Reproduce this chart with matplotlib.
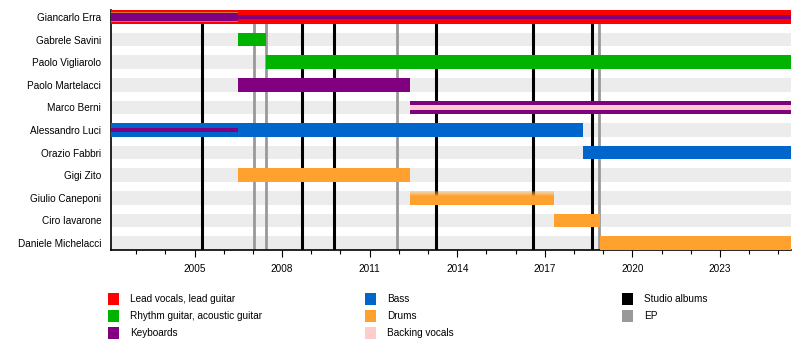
import numpy as np
import matplotlib.pyplot as plt
from matplotlib.patches import Rectangle

plt.rcParams['font.family'] = ['Liberation Sans', 'DejaVu Sans']

# timeline span (decimal years)
start = 2002.14
end = 2025.43

members = ["Giancarlo Erra", "Gabrele Savini", "Paolo Vigliarolo", "Paolo Martelacci",
           "Marco Berni", "Alessandro Luci", "Orazio Fabbri", "Gigi Zito",
           "Giulio Caneponi", "Ciro Iavarone", "Daniele Michelacci"]

# main role bars: (member, from, till, role)
main_bars = [
    ("Giancarlo Erra", start, end, "vocals"),
    ("Gabrele Savini", 2006.50, 2007.45, "guitar"),
    ("Paolo Vigliarolo", 2007.45, end, "guitar"),
    ("Paolo Martelacci", 2006.50, 2012.38, "keys"),
    ("Marco Berni", 2012.38, end, "keys"),
    ("Alessandro Luci", start, 2018.32, "bass"),
    ("Orazio Fabbri", 2018.32, end, "bass"),
    ("Gigi Zito", 2006.50, 2012.38, "drums"),
    ("Giulio Caneponi", 2012.38, 2017.32, "drums"),
    ("Ciro Iavarone", 2017.32, 2018.88, "drums"),
    ("Daniele Michelacci", 2018.88, end, "drums"),
]

# secondary roles drawn as narrower stripes inside the main bar
extra_bars = [
    ("Giancarlo Erra", start, 2006.50, "drums", 0.44),
    ("Giancarlo Erra", start, 2006.50, "keys", 0.32),
    ("Giancarlo Erra", 2006.50, end, "keys", 0.2),
    ("Marco Berni", 2012.38, end, "backing", 0.2),
    ("Alessandro Luci", start, 2006.50, "keys", 0.2),
]

studio_albums = [2005.25, 2008.68, 2009.78, 2013.27, 2016.59, 2018.61]
eps = [2007.03, 2007.45, 2011.94, 2018.87]

colors = {
    "vocals": "#ff0000",
    "guitar": "#00b300",
    "keys": "#800080",
    "bass": "#0066cc",
    "drums": "#ffa12e",
    "backing": "#ffcccc",
    "album": "#000000",
    "ep": "#999999",
}

legend_cols = [
    [("Lead vocals, lead guitar", "vocals"), ("Rhythm guitar, acoustic guitar", "guitar"),
     ("Keyboards", "keys")],
    [("Bass", "bass"), ("Drums", "drums"), ("Backing vocals", "backing")],
    [("Studio albums", "album"), ("EP", "ep")],
]

fig = plt.figure(figsize=(8, 3.5), dpi=100)
ax = fig.add_axes([111 / 800, 1 - 250 / 350, 680 / 800, 240 / 350])

row = {name: i for i, name in enumerate(members)}
h = 0.6

# light grey row bands
for i in range(len(members)):
    ax.barh(i, end - start, left=start, height=h, color="#ececec", zorder=1)

for x in studio_albums:
    ax.axvline(x, color=colors["album"], lw=2.2, zorder=2)
for x in eps:
    ax.axvline(x, color=colors["ep"], lw=2, zorder=2)

for name, a, b, role in main_bars:
    hh = 0.66 if name == "Giancarlo Erra" else h
    if name == "Giulio Caneponi":
        # soft top edge
        ax.barh(row[name] + 0.1, b - a, left=a, height=h - 0.2, color=colors[role], lw=0, zorder=3)
        for k in range(5):
            y0 = row[name] - h / 2 + k * 0.04
            ax.barh(y0 + 0.02, b - a, left=a, height=0.04, color=colors[role],
                    alpha=0.3 + 0.15 * k, lw=0, zorder=3)
    else:
        ax.barh(row[name], b - a, left=a, height=hh, color=colors[role], lw=0, zorder=3)

for name, a, b, role, hh in extra_bars:
    c = "#d2773c" if (role == "drums" and name == "Giancarlo Erra") else colors[role]
    ax.barh(row[name], b - a, left=a, height=hh, color=c, lw=0, zorder=4)

ax.set_xlim(start, end)
ax.set_ylim(10.31, -0.31)
ax.set_yticks(range(len(members)))
ax.set_yticklabels(members, fontsize=7.2)
ax.tick_params(axis="y", length=0, pad=7)

major = np.arange(2005, 2024, 3)
ax.set_xticks(major)
ax.set_xticklabels([str(y) for y in major], fontsize=7.2)
ax.set_xticks(np.arange(2003, 2026), minor=True)
ax.tick_params(axis="x", which="major", length=5, width=0.8, pad=5)
ax.tick_params(axis="x", which="minor", length=3, width=0.8)
for s in ["top", "right"]:
    ax.spines[s].set_visible(False)
ax.spines["left"].set_linewidth(1.2)
ax.spines["bottom"].set_linewidth(1.2)
ax.set_facecolor("white")

# legend in pixel coordinates
lg = fig.add_axes([0, 0, 1, 1], zorder=-1)
lg.set_xlim(0, 800)
lg.set_ylim(350, 0)
lg.axis("off")
col_x = [108, 365, 622]
row_y = [299, 316, 333]
for cx, items in zip(col_x, legend_cols):
    for ry, (label, key) in zip(row_y, items):
        lg.add_patch(Rectangle((cx, ry - 6), 11, 12, color=colors[key], lw=0))
        lg.text(cx + 22, ry, label, fontsize=7.2, va="center", ha="left")

fig.savefig("out.png", dpi=100)
